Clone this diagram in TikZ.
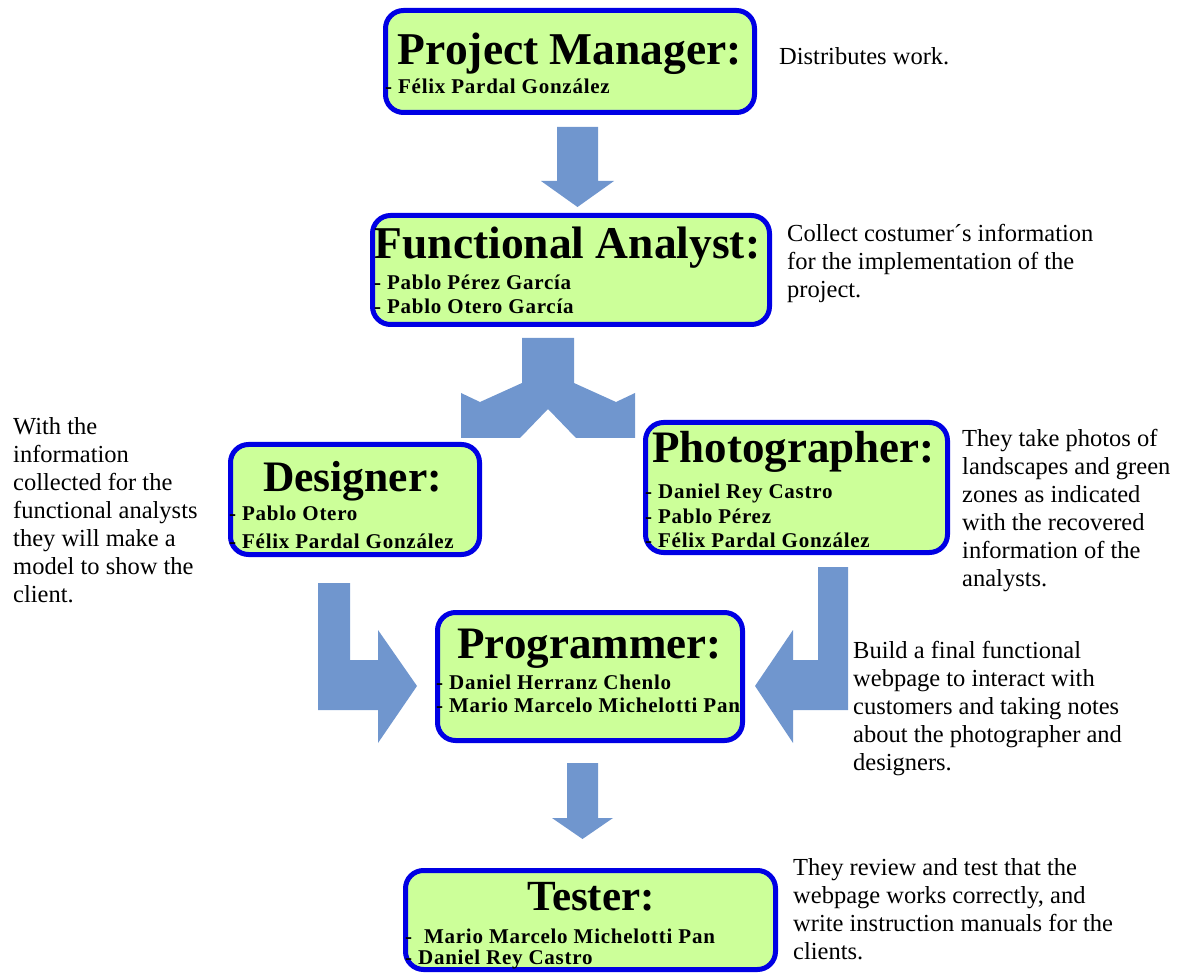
\documentclass[tikz,border=0pt]{standalone}
\usepackage{fontspec}
\setmainfont{Liberation Serif}
\newfontfamily\namefont{Liberation Serif}[LetterSpace=3.5]
\definecolor{boxgreen}{RGB}{204,255,153}
\definecolor{boxblue}{RGB}{0,0,228}
\definecolor{arrowblue}{RGB}{112,150,206}
\newcommand\desclines[1]{\begin{tabular}[t]{@{}l@{}}#1\end{tabular}}
\tikzset{
  rolebox/.style={draw=boxblue, fill=boxgreen, line width=5pt, rounded corners=18pt, inner sep=0pt},
  roletitle/.style={anchor=base, inner sep=0pt, font=\bfseries},
  member/.style={anchor=base west, inner sep=0pt, font=\namefont\bfseries\fontsize{21}{23}\selectfont},
  desc/.style={anchor=base west, inner sep=0pt, font=\rmfamily\fontsize{24.5}{28}\selectfont},
  blockarrow/.style={fill=arrowblue, draw=none},
}
\begin{document}
\begin{tikzpicture}[x=1pt,y=-1pt]
\useasboundingbox (0,0) rectangle (1184,973);

% block arrows
\fill[blockarrow] (557,127) -- (598,127) -- (598,181) -- (614,181) -- (577.5,207) -- (541,181) -- (557,181) -- cycle;
\fill[blockarrow] (522,338) -- (574,338) -- (574,383) -- (616,402) -- (635,393) -- (635,438) -- (576,438) -- (548,409) -- (520,438) -- (461,438) -- (461,393) -- (480,402) -- (522,383) -- cycle;
\fill[blockarrow] (318,583) -- (350,583) -- (350,660) -- (378,660) -- (378,630) -- (417,686) -- (378,743) -- (378,710) -- (318,710) -- cycle;
\fill[blockarrow] (848,567) -- (818,567) -- (818,660) -- (793,660) -- (793,630) -- (755,686) -- (793,743) -- (793,710) -- (848,710) -- cycle;
\fill[blockarrow] (567,763) -- (598,763) -- (598,818) -- (613,818) -- (582.5,839) -- (552,818) -- (567,818) -- cycle;

% boxes
\node[rolebox, minimum width=369pt, minimum height=102pt] (pm) at (570,61.5) {};
\node[rolebox, minimum width=397pt, minimum height=109pt] (fa) at (571,270) {};
\node[rolebox, minimum width=249pt, minimum height=110pt] (de) at (355,499.5) {};
\node[rolebox, minimum width=302pt, minimum height=130pt] (ph) at (796.5,487.5) {};
\node[rolebox, minimum width=305pt, minimum height=128pt] (pr) at (590,676.5) {};
\node[rolebox, minimum width=370pt, minimum height=99pt] (te) at (590.5,920) {};

% titles
\node[roletitle] (pmt) at (570,65) {\fontsize{45.5}{50}\selectfont Project Manager:};
\node[roletitle] (fat) at (567.5,259) {\fontsize{45.5}{50}\selectfont Functional Analyst:};
\node[roletitle] (det) at (352.5,492) {\fontsize{43.5}{50}\selectfont Designer:};
\node[roletitle] (pht) at (793.5,463) {\fontsize{45}{50}\selectfont Photographer:};
\node[roletitle] (prt) at (589.5,658) {\fontsize{45}{50}\selectfont Programmer:};
\node[roletitle] (tet) at (591,910) {\fontsize{43}{50}\selectfont Tester:};

% members
\node[member] (pm1) at (385,94) {- Félix Pardal González};
\node[member] (fa1) at (374,290) {- Pablo Pérez García};
\node[member] (fa2) at (374,314) {- Pablo Otero García};
\node[member] (de1) at (229,520) {- Pablo Otero};
\node[member] (de2) at (229,548) {- Félix Pardal González};
\node[member] (ph1) at (645,498) {- Daniel Rey Castro};
\node[member] (ph2) at (645,523) {- Pablo Pérez};
\node[member] (ph3) at (645,547) {- Félix Pardal González};
\node[member] (pr1) at (436,689) {- Daniel Herranz Chenlo};
\node[member] (pr2) at (436,712) {- Mario Marcelo Michelotti Pan};
\node[member] (te1) at (405,943) {-\ \ Mario Marcelo Michelotti Pan};
\node[member] (te2) at (405,964) {- Daniel Rey Castro};

% descriptions
\node[desc] (pmd) at (779,65) {\desclines{Distributes work.}};
\node[desc] (fad) at (787,242) {\desclines{Collect costumer´s information\\for the implementation of the\\project.}};
\node[desc] (ded) at (13,435) {\desclines{With the\\information\\collected for the\\functional analysts\\they will make a\\model to show the\\client.}};
\node[desc] (phd) at (962,447) {\desclines{They take photos of\\landscapes and green\\zones as indicated\\with the recovered\\information of the\\analysts.}};
\node[desc] (prd) at (853,658) {\desclines{Build a final functional\\webpage to interact with\\customers and taking notes\\about the photographer and\\designers.}};
\node[desc] (ted) at (793,875) {\desclines{They review and test that the\\webpage works correctly, and\\write instruction manuals for the\\clients.}};
\end{tikzpicture}
\end{document}
